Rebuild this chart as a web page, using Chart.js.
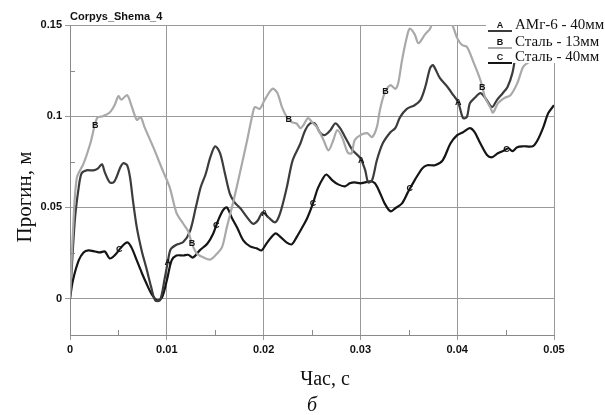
<!DOCTYPE html>
<html>
<head>
<meta charset="utf-8">
<script src="https://cdn.jsdelivr.net/npm/chart.js@4"></script>
<style>
  body { margin: 0; background: #fff; }
  #wrap { width: 605px; height: 415px; }
</style>
</head>
<body>
<div id="wrap"><canvas id="chart" width="605" height="415"></canvas></div>
<script>
// dane
const timeA = [0, 0.0005, 0.0009, 0.0012, 0.0017, 0.0024, 0.0029, 0.0033, 0.0036, 0.0041, 0.0045, 0.0048, 0.0052, 0.0055, 0.0059, 0.0062, 0.0065, 0.0069, 0.0074, 0.0079, 0.0084, 0.0088, 0.0093, 0.0098, 0.0101, 0.0104, 0.0110, 0.0117, 0.0124, 0.0130, 0.0135, 0.0140, 0.0145, 0.0150, 0.0155, 0.0160, 0.0165, 0.0170, 0.0176, 0.0183, 0.0189, 0.0194, 0.0199, 0.0205, 0.0212, 0.0217, 0.0224, 0.0230, 0.0238, 0.0243, 0.0248, 0.0253, 0.0258, 0.0263, 0.0269, 0.0274, 0.0279, 0.0286, 0.0292, 0.0300, 0.0305, 0.0308, 0.0312, 0.0317, 0.0323, 0.0331, 0.0336, 0.0341, 0.0348, 0.0356, 0.0362, 0.0367, 0.0372, 0.0375, 0.0382, 0.0390, 0.0396, 0.0401, 0.0406, 0.0410, 0.0413, 0.0418, 0.0424, 0.0429, 0.0436, 0.0441, 0.0447, 0.0452, 0.0457, 0.0460];
const valA = [0, 0.043, 0.061, 0.0687, 0.0703, 0.0703, 0.0714, 0.0736, 0.0692, 0.0637, 0.0637, 0.0665, 0.072, 0.0742, 0.0731, 0.0665, 0.0538, 0.039, 0.0264, 0.0165, 0.006, -0.001, -0.001, 0.0115, 0.02, 0.027, 0.0295, 0.031, 0.037, 0.050, 0.061, 0.068, 0.0775, 0.0835, 0.0797, 0.0687, 0.0577, 0.0527, 0.0495, 0.0445, 0.041, 0.0428, 0.0473, 0.0445, 0.0418, 0.0467, 0.061, 0.0758, 0.085, 0.0923, 0.096, 0.096, 0.0912, 0.0896, 0.0923, 0.096, 0.0934, 0.0868, 0.0813, 0.0769, 0.0703, 0.0637, 0.0648, 0.0758, 0.085, 0.0912, 0.0934, 0.0995, 0.104, 0.106, 0.1088, 0.116, 0.1264, 0.128, 0.121, 0.116, 0.1115, 0.1077, 0.099, 0.0995, 0.107, 0.110, 0.1126, 0.110, 0.105, 0.1088, 0.1126, 0.116, 0.1236, 0.1324];

const timeB = [0, 0.0003, 0.0007, 0.0014, 0.0021, 0.0028, 0.0034, 0.0041, 0.0046, 0.0050, 0.0053, 0.0059, 0.0064, 0.0069, 0.0073, 0.0077, 0.0086, 0.0096, 0.0103, 0.0110, 0.0117, 0.0122, 0.0126, 0.0131, 0.0138, 0.0145, 0.0152, 0.0157, 0.0162, 0.0169, 0.0176, 0.0183, 0.0188, 0.0191, 0.0196, 0.0201, 0.0209, 0.0214, 0.0219, 0.0224, 0.0229, 0.0234, 0.0238, 0.0241, 0.0246, 0.0250, 0.0255, 0.0262, 0.0267, 0.0272, 0.0276, 0.0281, 0.0287, 0.0291, 0.0294, 0.0300, 0.0307, 0.0312, 0.0317, 0.0320, 0.0325, 0.0331, 0.0336, 0.0339, 0.0343, 0.0348, 0.0351, 0.0356, 0.0360, 0.0367, 0.0372, 0.0378, 0.0386, 0.0395, 0.0400, 0.0405, 0.0410, 0.0416, 0.0424, 0.0429, 0.0434, 0.0437, 0.0442, 0.0449, 0.0455, 0.0462, 0.0468, 0.0472, 0.0477, 0.0484];
const valB = [0, 0.036, 0.066, 0.074, 0.085, 0.099, 0.100, 0.102, 0.106, 0.111, 0.109, 0.1115, 0.105, 0.098, 0.0995, 0.094, 0.083, 0.070, 0.061, 0.047, 0.041, 0.037, 0.030, 0.0247, 0.0225, 0.0214, 0.0247, 0.028, 0.039, 0.0538, 0.070, 0.0868, 0.0995, 0.105, 0.104, 0.1088, 0.115, 0.113, 0.105, 0.0995, 0.0967, 0.096, 0.0934, 0.095, 0.099, 0.0967, 0.094, 0.0868, 0.0813, 0.0868, 0.0923, 0.0885, 0.080, 0.0797, 0.0868, 0.0896, 0.0907, 0.0885, 0.094, 0.103, 0.1126, 0.117, 0.115, 0.118, 0.1307, 0.1434, 0.148, 0.145, 0.140, 0.145, 0.148, 0.156, 0.158, 0.150, 0.1428, 0.139, 0.138, 0.1307, 0.1198, 0.110, 0.105, 0.102, 0.107, 0.110, 0.1115, 0.118, 0.127, 0.129, 0.1307, 0.136];

const timeC = [0, 0.0003, 0.0009, 0.0014, 0.0019, 0.0026, 0.0031, 0.0036, 0.0041, 0.0046, 0.0052, 0.0057, 0.0060, 0.0064, 0.0069, 0.0074, 0.0079, 0.0084, 0.0090, 0.0095, 0.0100, 0.0105, 0.0110, 0.0117, 0.0122, 0.0127, 0.0134, 0.0142, 0.0148, 0.0153, 0.0158, 0.0162, 0.0167, 0.0173, 0.0179, 0.0186, 0.0193, 0.0198, 0.0203, 0.0212, 0.0217, 0.0224, 0.0229, 0.0234, 0.0241, 0.0245, 0.0251, 0.0256, 0.0262, 0.0265, 0.0271, 0.0277, 0.0284, 0.0289, 0.0294, 0.0300, 0.0305, 0.0310, 0.0315, 0.0320, 0.0325, 0.0331, 0.0336, 0.0343, 0.0349, 0.0356, 0.0364, 0.0369, 0.0377, 0.0385, 0.0393, 0.0400, 0.0406, 0.0413, 0.0418, 0.0424, 0.0431, 0.0436, 0.0442, 0.0449, 0.0453, 0.0457, 0.0462, 0.0468, 0.0478, 0.0483, 0.0489, 0.0494, 0.0500];
const valC = [0, 0.0099, 0.0209, 0.0253, 0.0264, 0.0258, 0.0253, 0.0258, 0.022, 0.0236, 0.0275, 0.0302, 0.0307, 0.0275, 0.0209, 0.0143, 0.0082, 0.0027, -0.001, 0.0005, 0.0099, 0.0209, 0.0236, 0.0236, 0.024, 0.0225, 0.0264, 0.0302, 0.0357, 0.0428, 0.0484, 0.050, 0.0445, 0.0385, 0.0319, 0.0286, 0.0275, 0.0264, 0.0302, 0.0357, 0.034, 0.0307, 0.0297, 0.0335, 0.040, 0.044, 0.0522, 0.0604, 0.0665, 0.068, 0.0648, 0.0626, 0.0615, 0.0632, 0.0637, 0.0632, 0.0637, 0.0643, 0.0632, 0.0582, 0.0522, 0.0478, 0.0495, 0.0522, 0.0582, 0.0648, 0.0714, 0.0731, 0.0731, 0.0758, 0.085, 0.0896, 0.0912, 0.0934, 0.0912, 0.085, 0.0786, 0.0775, 0.0797, 0.0813, 0.0824, 0.0808, 0.083, 0.0835, 0.0835, 0.0868, 0.094, 0.1016, 0.106];

// litery na krzywych (pozycje w czasie)
const markA = [0.0101, 0.0201, 0.0301, 0.0401];
const markB = [0.0026, 0.0126, 0.0226, 0.0326, 0.0426];
const markC = [0.0051, 0.0151, 0.0251, 0.0351, 0.0451];

const seriesNames = ["АМг-6 - 40мм", "Сталь - 13мм", "Сталь - 40мм"];
const seriesLetters = ["A", "B", "C"];
const seriesColors = ["#3c3c3c", "#a9a9a9", "#151515"];

const xTicks = [0, 0.01, 0.02, 0.03, 0.04, 0.05];
const yTicks = [0, 0.05, 0.1, 0.15];
const xMinor = [0.005, 0.015, 0.025, 0.035, 0.045];
const yMinor = [0.025, 0.075, 0.125];

const SANS = "'Liberation Sans', Arial, sans-serif";
const SERIF = "'Liberation Serif', 'Times New Roman', serif";

function toPoints(xs, ys) {
  return xs.map((x, i) => ({ x: x, y: ys[i] }));
}

// wartosc krzywej w danym czasie (liniowo miedzy punktami)
function valueAt(xs, ys, t) {
  for (let i = 1; i < xs.length; i++) {
    if (t <= xs[i]) {
      let k = (t - xs[i - 1]) / (xs[i] - xs[i - 1]);
      return ys[i - 1] + k * (ys[i] - ys[i - 1]);
    }
  }
  return ys[ys.length - 1];
}

function fmt(v) {
  return String(Number(v.toFixed(3)));
}

const marks = [
  [timeA, valA, markA],
  [timeB, valB, markB],
  [timeC, valC, markC],
];

const extrasPlugin = {
  id: "extras",
  afterDatasetsDraw(chart) {
    const ctx = chart.ctx;
    const xs = chart.scales.x;
    const ys = chart.scales.y;
    const area = chart.chartArea;
    ctx.save();

    // male kreski pomocnicze
    ctx.strokeStyle = "#8a8a8a";
    ctx.lineWidth = 1;
    xMinor.forEach((v) => {
      let px = Math.round(xs.getPixelForValue(v)) + 0.5;
      ctx.beginPath();
      ctx.moveTo(px, area.bottom);
      ctx.lineTo(px, area.bottom - 5);
      ctx.stroke();
    });
    yMinor.forEach((v) => {
      let py = Math.round(ys.getPixelForValue(v)) + 0.5;
      ctx.beginPath();
      ctx.moveTo(area.left, py);
      ctx.lineTo(area.left + 5, py);
      ctx.stroke();
    });

    // litery na krzywych
    ctx.fillStyle = "#111";
    ctx.font = "bold 9px " + SANS;
    ctx.textAlign = "center";
    ctx.textBaseline = "middle";
    marks.forEach((m, si) => {
      m[2].forEach((t) => {
        let y = valueAt(m[0], m[1], t);
        ctx.fillText(seriesLetters[si], xs.getPixelForValue(t), ys.getPixelForValue(y));
      });
    });

    // legenda
    ctx.fillStyle = "#fff";
    ctx.fillRect(486, 14, 119, 49);
    const rows = [25, 42, 57];
    rows.forEach((ry, i) => {
      ctx.strokeStyle = seriesColors[i];
      ctx.lineWidth = 2;
      ctx.beginPath();
      ctx.moveTo(488, ry + 6);
      ctx.lineTo(512, ry + 6);
      ctx.stroke();
      ctx.fillStyle = "#111";
      ctx.font = "bold 9px " + SANS;
      ctx.textAlign = "center";
      ctx.textBaseline = "middle";
      ctx.fillText(seriesLetters[i], 500, ry + 1);
      ctx.font = "15px " + SERIF;
      ctx.textAlign = "left";
      ctx.fillText(seriesNames[i], 515, ry);
    });

    // tytul i opisy osi
    ctx.fillStyle = "#111";
    ctx.font = "bold 11px " + SANS;
    ctx.textAlign = "left";
    ctx.textBaseline = "middle";
    ctx.fillText("Corpys_Shema_4", 70, 17);

    ctx.font = "20px " + SERIF;
    ctx.textAlign = "center";
    ctx.fillText("Час, с", 325, 380);
    ctx.font = "italic 20px " + SERIF;
    ctx.fillText("б", 312, 406);

    ctx.translate(25, 197);
    ctx.rotate(-Math.PI / 2);
    ctx.font = "21px " + SERIF;
    ctx.fillText("Прогин, м", 0, 0);
    ctx.restore();
  },
};

function makeDataset(i, xs, ys) {
  return {
    label: seriesNames[i],
    data: toPoints(xs, ys),
    borderColor: seriesColors[i],
    borderWidth: 2.2,
    pointRadius: 0,
    tension: 0.3,
    fill: false,
  };
}

new Chart(document.getElementById("chart"), {
  type: "line",
  data: {
    datasets: [
      makeDataset(1, timeB, valB),
      makeDataset(0, timeA, valA),
      makeDataset(2, timeC, valC),
    ],
  },
  options: {
    responsive: false,
    animation: false,
    layout: { padding: { left: 0, top: 25, right: 51, bottom: 0 } },
    plugins: {
      legend: { display: false },
      tooltip: { enabled: false },
    },
    scales: {
      x: {
        type: "linear",
        min: 0,
        max: 0.05,
        afterBuildTicks: (s) => { s.ticks = xTicks.map((v) => ({ value: v })); },
        afterFit: (s) => { s.height = 80; },
        ticks: {
          callback: (v) => fmt(v),
          font: { family: SANS, size: 11, weight: "bold" },
          color: "#111",
          padding: 3,
          maxRotation: 0,
        },
        grid: { color: "#9a9a9a", lineWidth: 1, tickLength: 5 },
        border: { color: "#8a8a8a", width: 1 },
      },
      y: {
        type: "linear",
        min: -0.02,
        max: 0.15,
        afterBuildTicks: (s) => { s.ticks = yTicks.map((v) => ({ value: v })); },
        afterFit: (s) => { s.width = 70; },
        ticks: {
          callback: (v) => fmt(v),
          font: { family: SANS, size: 11, weight: "bold" },
          color: "#111",
          padding: 3,
        },
        grid: { color: "#9a9a9a", lineWidth: 1, tickLength: 5 },
        border: { color: "#8a8a8a", width: 1 },
      },
    },
  },
  plugins: [extrasPlugin],
});
</script>
</body>
</html>
